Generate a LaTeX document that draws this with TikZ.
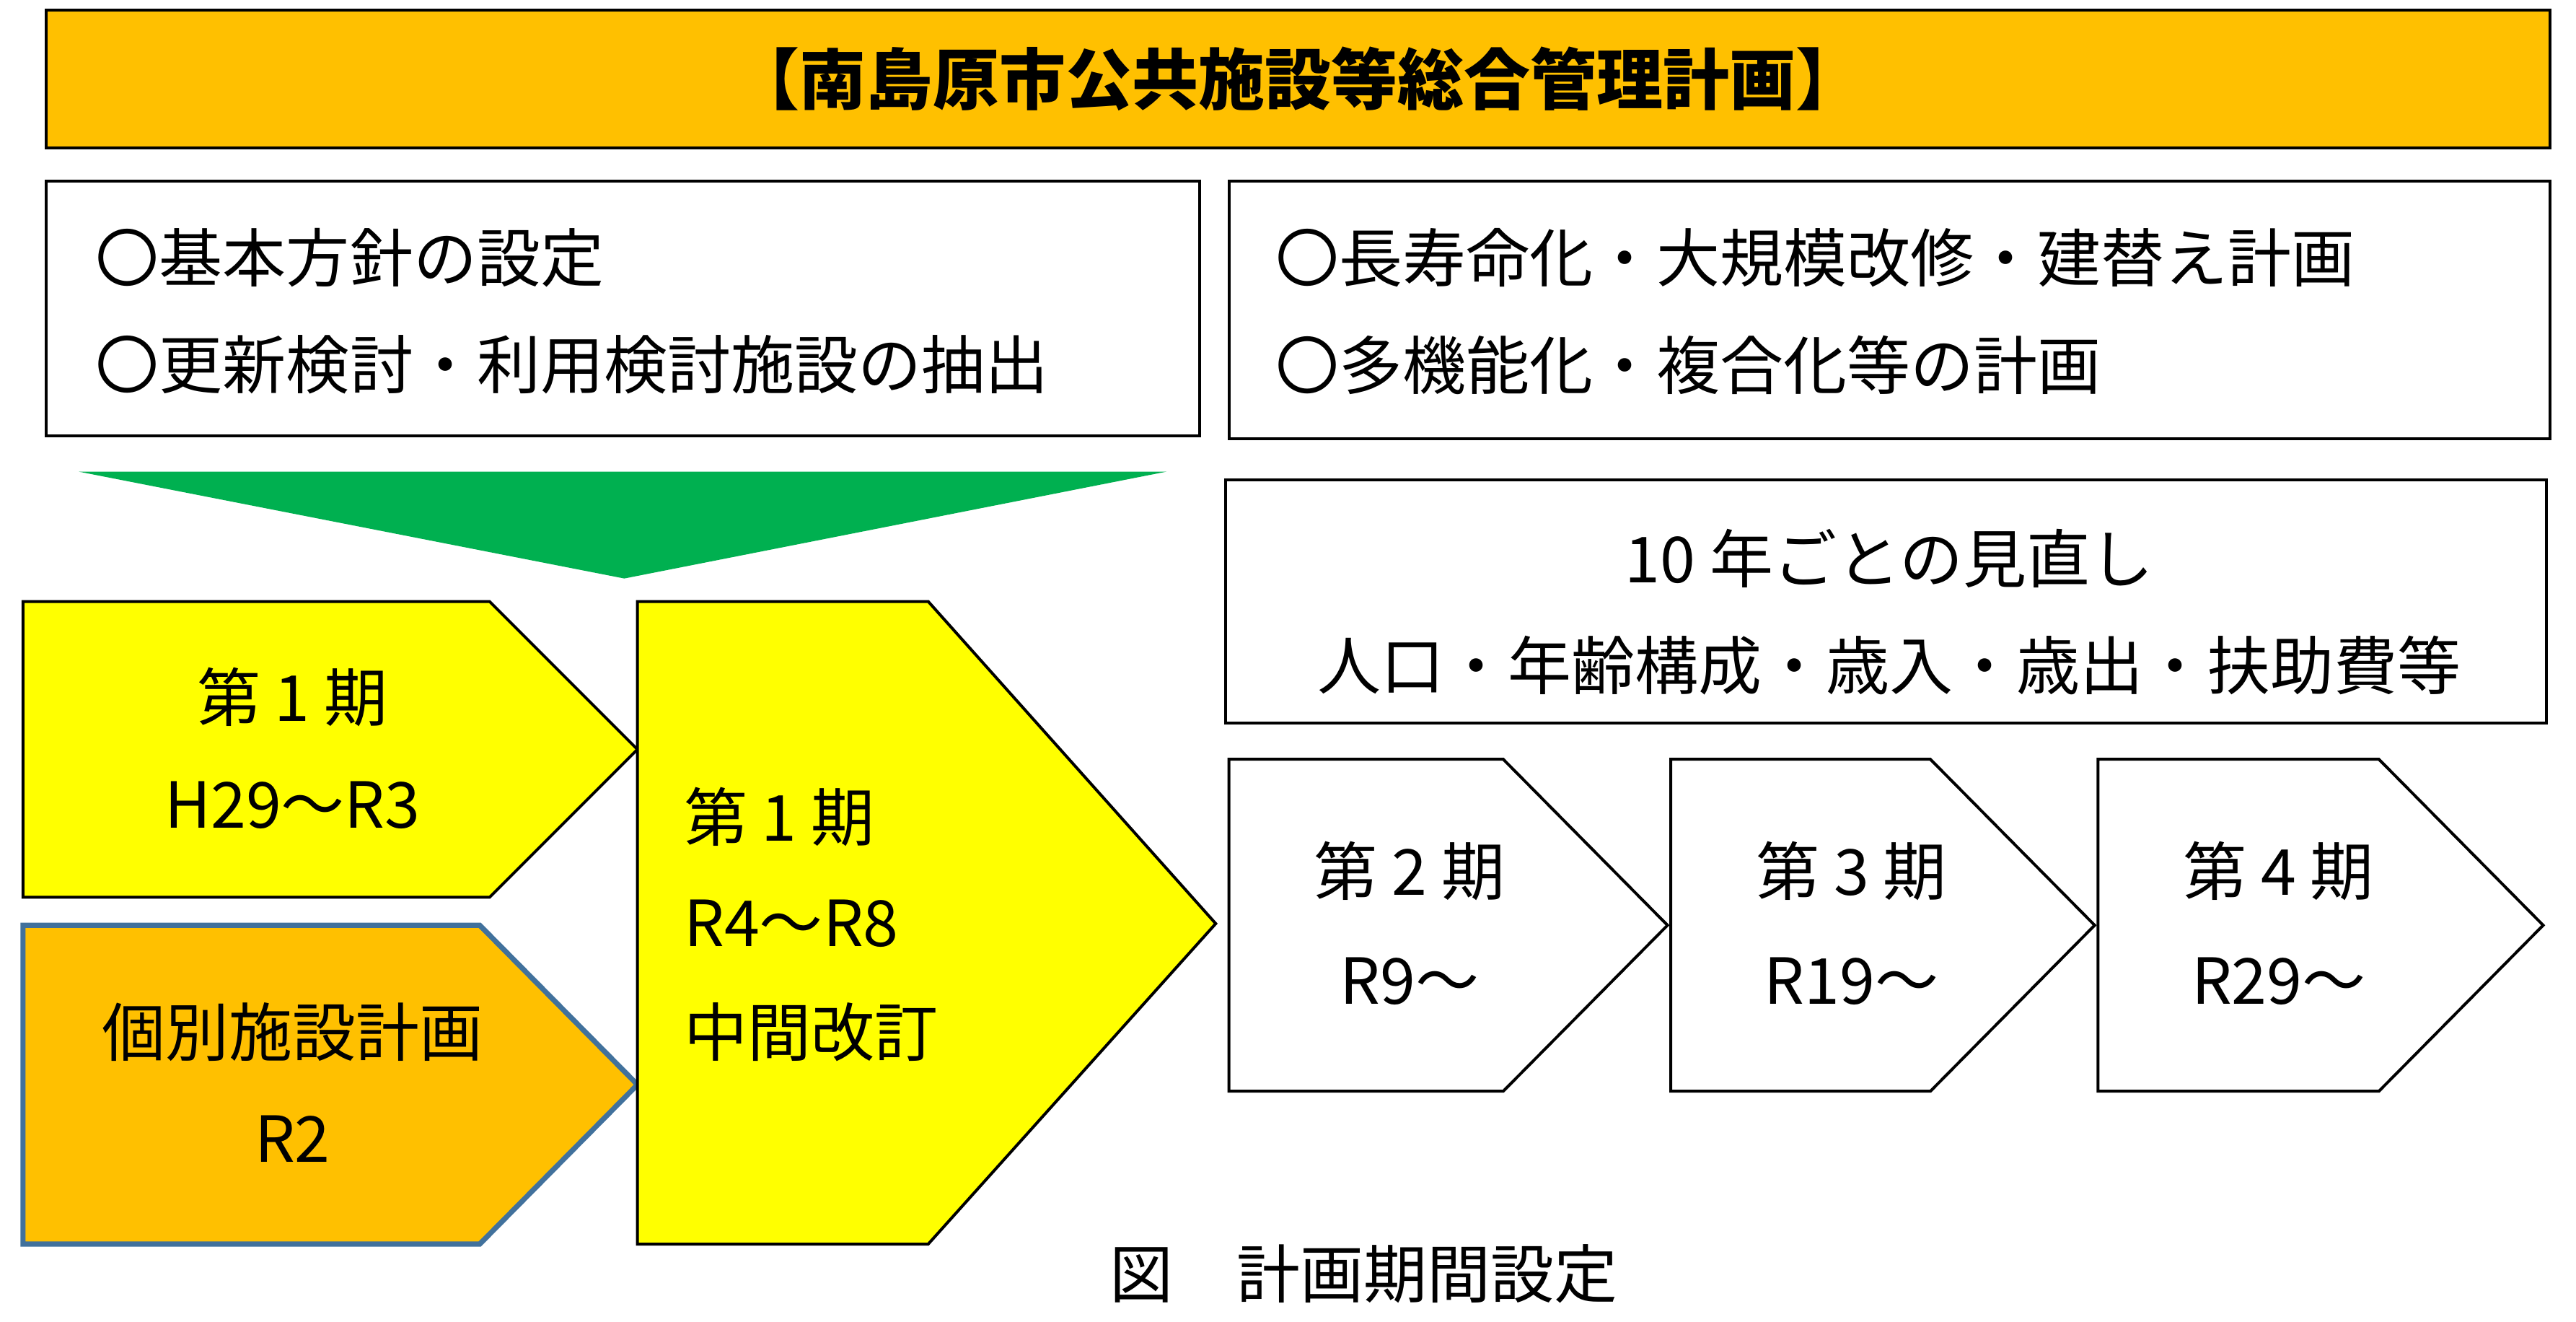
\documentclass[tikz,border=0pt]{standalone}
\usepackage{fontspec}
\setmainfont{Noto Sans CJK JP}
\usepackage{xcolor}
\usetikzlibrary{calc}
\definecolor{titleorange}{HTML}{FFC000}
\definecolor{arrowgreen}{HTML}{00B050}
\definecolor{planyellow}{HTML}{FFFF00}
\definecolor{edgeblue}{HTML}{41719C}
\tikzset{
  box/.style={draw=black, line width=1pt},
  txt/.style={font=\fontsize{22}{26}\selectfont, inner sep=0pt},
  ltxt/.style={txt, anchor=west},
}
\begin{document}
\begin{tikzpicture}[x=0.02cm, y=-0.02cm]
		\useasboundingbox (0,0) rectangle (1568,804);
		% title
		\draw[box, fill=titleorange] (28,6) rectangle (1552,90);
		\node[txt, font=\fontsize{23}{26}\selectfont\bfseries] (title) at (790,48) {【南島原市公共施設等総合管理計画】};
		% upper boxes
		\draw[box] (28,110) rectangle (730,265);
		\node[ltxt] (basic) at (58,157) {〇基本方針の設定};
		\node[ltxt] (extract) at (58,222) {〇更新検討・利用検討施設の抽出};
		\draw[box] (748,110) rectangle (1552,267);
		\node[ltxt] (life) at (776,157) {〇長寿命化・大規模改修・建替え計画};
		\node[ltxt] (multi) at (776,222) {〇多機能化・複合化等の計画};
		\fill[arrowgreen] (48,287) -- (710,287) -- (380,352) -- cycle;
		\draw[box] (746,292) rectangle (1550,440);
		\node[txt] (review) at (1150,340) {10 年ごとの見直し};
		\node[txt] (factors) at (1150,405) {人口・年齢構成・歳入・歳出・扶助費等};
		% periods
		\draw[box, fill=planyellow] (14,366) -- (298,366) -- (388,456) -- (298,546) -- (14,546) -- cycle;
		\node[txt] (p1) at (178,424) {第 1 期};
		\node[txt] (p1y) at (178,490) {H29～R3};
		\draw[fill=titleorange, draw=edgeblue, line width=1.8pt] (14,563) -- (292,563) -- (388,660) -- (292,757) -- (14,757) -- cycle;
		\node[txt] (indiv) at (178,628) {個別施設計画};
		\node[txt] (indivy) at (178,693) {R2};
		\draw[box, fill=planyellow] (388,366) -- (565,366) -- (740,562) -- (565,757) -- (388,757) -- cycle;
		\node[ltxt] (p1b) at (416,497) {第 1 期};
		\node[ltxt] (p1by) at (416,562) {R4～R8};
		\node[ltxt] (mid) at (416,628) {中間改訂};
		\foreach \xa/\xb/\xc/\lab/\yr in {748/915/1015/2/R9～, 1017/1175/1275/3/R19～, 1277/1448/1548/4/R29～}{
			\draw[box, fill=white] (\xa,462) -- (\xb,462) -- (\xc,563) -- (\xb,664) -- (\xa,664) -- cycle;
			\node[txt] at ({\xa+110},530) {第 \lab\ 期};
			\node[txt] at ({\xa+110},597) {\yr};
		}
		\node[txt] (caption) at (830,775) {図　計画期間設定};
	\end{tikzpicture}
\end{document}
